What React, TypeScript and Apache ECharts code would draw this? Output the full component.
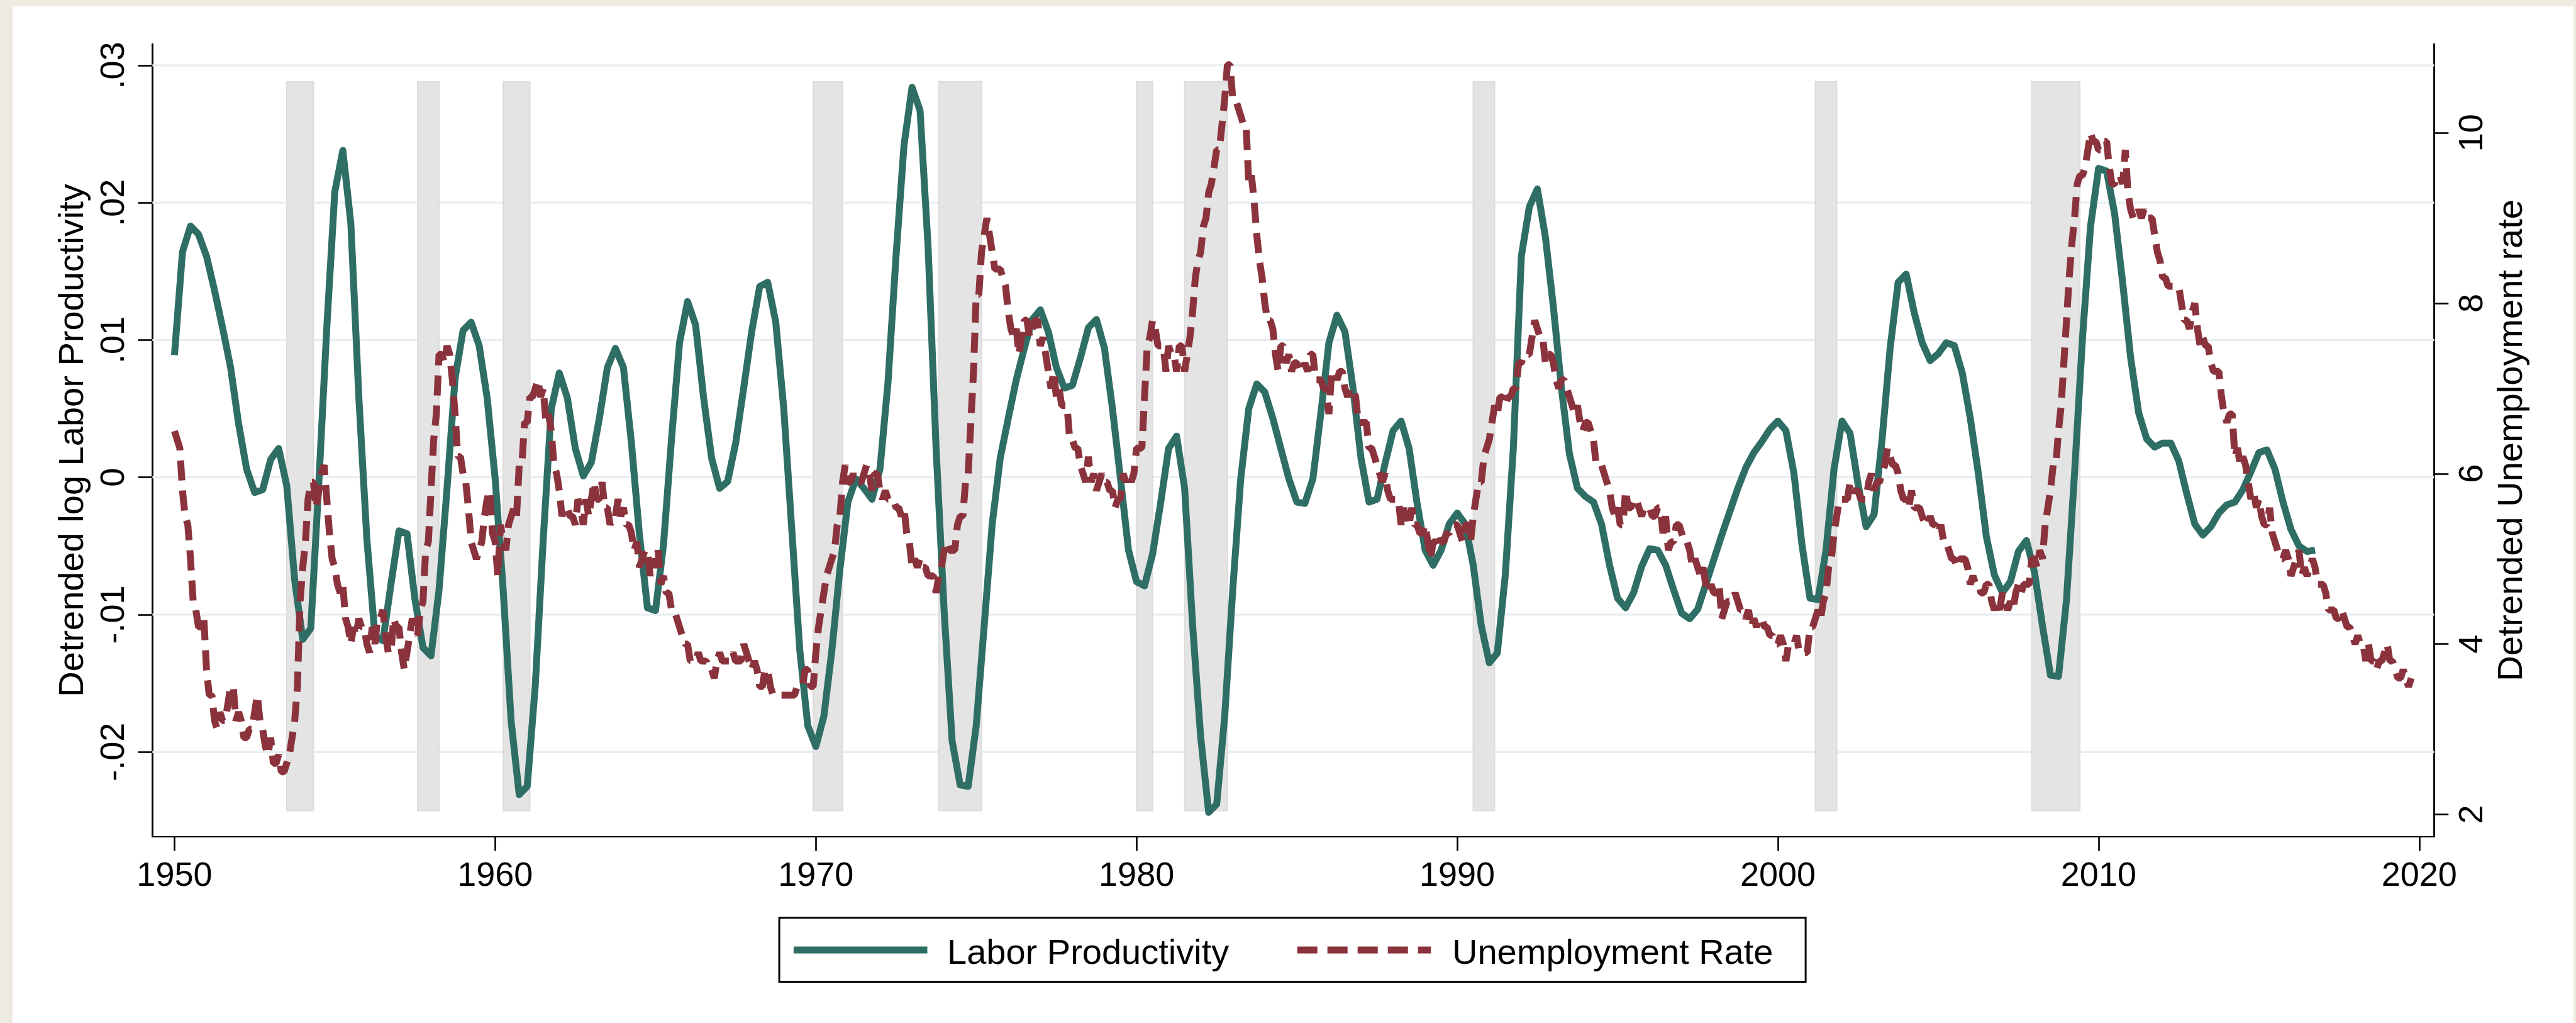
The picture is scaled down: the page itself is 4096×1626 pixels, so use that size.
import React, { useEffect, useRef } from "react";
import * as echarts from "echarts";

// ---------- data ----------
const xTickYears = [1950, 1960, 1970, 1980, 1990, 2000, 2010, 2020];
const leftTicks = [-0.02, -0.01, 0, 0.01, 0.02, 0.03];
const rightTicks = [2, 4, 6, 8, 10];
const legendLabels = ["Labor Productivity", "Unemployment Rate"];
const axisTitles = ["Detrended log Labor Productivity", "Detrended Unemployment rate"];

// Detrended log labor productivity, quarterly from 1950Q1
const productivityStartYear = 1950;
const productivity1950s = [
  0.0089, 0.0164, 0.0183, 0.0177, 0.0161, 0.0136, 0.0109, 0.008, 0.0039, 0.0006,
  -0.0011, -0.0009, 0.0013, 0.0021, -0.0006, -0.0075, -0.0118, -0.011, -0.0005, 0.0109,
  0.0208, 0.0238, 0.0185, 0.0058, -0.0045, -0.0115, -0.0119, -0.0078, -0.0039, -0.0041,
  -0.0089, -0.0124, -0.013, -0.0082, -0.0008, 0.0072, 0.0107, 0.0113, 0.0096, 0.0058,
];
const productivity1960s = [
  -0.0001, -0.0082, -0.0178, -0.0231, -0.0225, -0.0152, -0.0045, 0.005, 0.0076, 0.0058,
  0.0021, 0.0001, 0.0011, 0.0043, 0.008, 0.0094, 0.008, 0.0025, -0.0042, -0.0095,
  -0.0097, -0.0049, 0.0028, 0.0098, 0.0128, 0.0111, 0.0058, 0.0014, -0.0008, -0.0003,
  0.0025, 0.0065, 0.0106, 0.0139, 0.0142, 0.0113, 0.005, -0.0038, -0.0126, -0.0181,
];
const productivity1970s = [
  -0.0196, -0.0174, -0.0126, -0.0067, -0.0018, -0.0001, -0.0008, -0.0016, 0.0006, 0.0069,
  0.0161, 0.0242, 0.0284, 0.0267, 0.0168, 0.0021, -0.0097, -0.0192, -0.0224, -0.0225,
  -0.0181, -0.0108, -0.0034, 0.0014, 0.0043, 0.0071, 0.0094, 0.0115, 0.0122, 0.0106,
  0.008, 0.0065, 0.0067, 0.0087, 0.0109, 0.0115, 0.0094, 0.005, -0.0001, -0.0053,
];
const productivity1980s = [
  -0.0076, -0.0079, -0.0056, -0.0019, 0.0021, 0.003, -0.0008, -0.0108, -0.0189, -0.0244,
  -0.0238, -0.0174, -0.0082, -0.0001, 0.005, 0.0068, 0.0062, 0.0043, 0.0021, -0.0001,
  -0.0018, -0.0019, -0.0001, 0.0047, 0.0098, 0.0118, 0.0106, 0.0065, 0.0014, -0.0018,
  -0.0016, 0.001, 0.0034, 0.0041, 0.0021, -0.0019, -0.0053, -0.0064, -0.0053, -0.0034,
];
const productivity1990s = [
  -0.0026, -0.0034, -0.0064, -0.0108, -0.0135, -0.0128, -0.0071, 0.0021, 0.0161, 0.0197,
  0.021, 0.0175, 0.0124, 0.0065, 0.0017, -0.0008, -0.0014, -0.0018, -0.0034, -0.0064,
  -0.0088, -0.0095, -0.0084, -0.0065, -0.0052, -0.0053, -0.0064, -0.0082, -0.0099, -0.0103,
  -0.0096, -0.0078, -0.006, -0.0042, -0.0025, -0.0008, 0.0007, 0.0018, 0.0026, 0.0035,
];
const productivity2000s = [
  0.0041, 0.0034, 0.0003, -0.0049, -0.0088, -0.0089, -0.0053, 0.0006, 0.0041, 0.0032,
  -0.0005, -0.0036, -0.0027, 0.0028, 0.0094, 0.0142, 0.0148, 0.012, 0.0098, 0.0085,
  0.009, 0.0098, 0.0096, 0.0076, 0.0043, 0.0003, -0.0043, -0.0071, -0.0084, -0.0076,
  -0.0054, -0.0046, -0.0069, -0.0108, -0.0144, -0.0145, -0.0089, 0.0003, 0.0102, 0.0183,
];
const productivity2010s = [
  0.0225, 0.0223, 0.0192, 0.0142, 0.0087, 0.0047, 0.0028, 0.0022, 0.0025, 0.0025,
  0.0012, -0.0012, -0.0034, -0.0042, -0.0036, -0.0026, -0.002, -0.0018, -0.0009, 0.0004,
  0.0018, 0.002, 0.0006, -0.0018, -0.0038, -0.005, -0.0054, -0.0053,
];

// Unemployment rate, monthly from January 1950
const unemploymentStartYear = 1950;
const unemployment1950s = [
  6.5, 6.4, 6.3, 5.8, 5.5, 5.4, 5.0, 4.5, 4.4, 4.2, 4.2, 4.3,
  3.7, 3.4, 3.4, 3.1, 3.0, 3.2, 3.1, 3.1, 3.3, 3.5, 3.5, 3.1,
  3.2, 3.1, 2.9, 2.9, 3.0, 3.0, 3.2, 3.4, 3.1, 3.0, 2.8, 2.7,
  2.9, 2.6, 2.6, 2.7, 2.5, 2.5, 2.6, 2.7, 2.9, 3.1, 3.5, 4.5,
  4.9, 5.2, 5.7, 5.9, 5.9, 5.6, 5.8, 6.0, 6.1, 5.7, 5.3, 5.0,
  4.9, 4.7, 4.6, 4.7, 4.3, 4.2, 4.0, 4.2, 4.1, 4.3, 4.2, 4.2,
  4.0, 3.9, 4.2, 4.0, 4.3, 4.3, 4.4, 4.1, 3.9, 3.9, 4.3, 4.2,
  4.2, 3.9, 3.7, 3.9, 4.1, 4.3, 4.2, 4.1, 4.4, 4.5, 5.1, 5.2,
  5.8, 6.4, 6.7, 7.4, 7.4, 7.3, 7.5, 7.4, 7.1, 6.7, 6.2, 6.2,
  6.0, 5.9, 5.6, 5.2, 5.1, 5.0, 5.1, 5.2, 5.5, 5.7, 5.8, 5.3,
];
const unemployment1960s = [
  5.2, 4.8, 5.4, 5.2, 5.1, 5.4, 5.5, 5.6, 5.5, 6.1, 6.1, 6.6,
  6.6, 6.9, 6.9, 7.0, 7.1, 6.9, 7.0, 6.6, 6.7, 6.5, 6.1, 6.0,
  5.8, 5.5, 5.6, 5.6, 5.5, 5.5, 5.4, 5.7, 5.6, 5.4, 5.7, 5.5,
  5.7, 5.9, 5.7, 5.7, 5.9, 5.6, 5.6, 5.4, 5.5, 5.5, 5.7, 5.5,
  5.6, 5.4, 5.4, 5.3, 5.1, 5.2, 4.9, 5.0, 5.1, 5.1, 4.8, 5.0,
  4.9, 5.1, 4.7, 4.8, 4.6, 4.6, 4.4, 4.4, 4.3, 4.2, 4.1, 4.0,
  4.0, 3.8, 3.8, 3.8, 3.9, 3.8, 3.8, 3.8, 3.7, 3.7, 3.6, 3.8,
  3.9, 3.8, 3.8, 3.8, 3.8, 3.9, 3.8, 3.8, 3.8, 4.0, 3.9, 3.8,
  3.7, 3.8, 3.7, 3.5, 3.5, 3.7, 3.7, 3.5, 3.4, 3.4, 3.4, 3.4,
  3.4, 3.4, 3.4, 3.4, 3.4, 3.5, 3.5, 3.5, 3.7, 3.7, 3.5, 3.5,
];
const unemployment1970s = [
  3.9, 4.2, 4.4, 4.6, 4.8, 4.9, 5.0, 5.1, 5.4, 5.5, 5.9, 6.1,
  5.9, 5.9, 6.0, 5.9, 5.9, 5.9, 6.0, 6.1, 6.0, 5.8, 6.0, 6.0,
  5.8, 5.7, 5.8, 5.7, 5.7, 5.7, 5.6, 5.6, 5.5, 5.6, 5.3, 5.2,
  4.9, 5.0, 4.9, 5.0, 4.9, 4.9, 4.8, 4.8, 4.8, 4.6, 4.8, 4.9,
  5.1, 5.2, 5.1, 5.1, 5.1, 5.4, 5.5, 5.5, 5.9, 6.0, 6.6, 7.2,
  8.1, 8.1, 8.6, 8.8, 9.0, 8.8, 8.6, 8.4, 8.4, 8.4, 8.3, 8.2,
  7.9, 7.7, 7.6, 7.7, 7.4, 7.6, 7.8, 7.8, 7.6, 7.7, 7.8, 7.8,
  7.5, 7.6, 7.4, 7.2, 7.0, 7.2, 6.9, 7.0, 6.8, 6.8, 6.8, 6.4,
  6.4, 6.3, 6.3, 6.1, 6.0, 5.9, 6.2, 5.9, 6.0, 5.8, 5.9, 6.0,
  5.9, 5.9, 5.8, 5.8, 5.6, 5.7, 5.7, 6.0, 5.9, 6.0, 5.9, 6.0,
];
const unemployment1980s = [
  6.3, 6.3, 6.3, 6.9, 7.5, 7.6, 7.8, 7.7, 7.5, 7.5, 7.5, 7.2,
  7.5, 7.4, 7.4, 7.2, 7.5, 7.5, 7.2, 7.4, 7.6, 7.9, 8.3, 8.5,
  8.6, 8.9, 9.0, 9.3, 9.4, 9.6, 9.8, 9.8, 10.1, 10.4, 10.8, 10.8,
  10.4, 10.4, 10.3, 10.2, 10.1, 10.1, 9.4, 9.5, 9.2, 8.8, 8.5, 8.3,
  8.0, 7.8, 7.8, 7.7, 7.4, 7.2, 7.5, 7.5, 7.3, 7.4, 7.2, 7.3,
  7.3, 7.2, 7.2, 7.3, 7.2, 7.4, 7.4, 7.1, 7.1, 7.1, 7.0, 7.0,
  6.7, 7.2, 7.2, 7.1, 7.2, 7.2, 7.0, 6.9, 7.0, 7.0, 6.9, 6.6,
  6.6, 6.6, 6.6, 6.3, 6.3, 6.2, 6.1, 6.0, 5.9, 6.0, 5.8, 5.7,
  5.7, 5.7, 5.7, 5.4, 5.6, 5.4, 5.4, 5.6, 5.4, 5.4, 5.3, 5.3,
  5.4, 5.2, 5.0, 5.2, 5.2, 5.3, 5.2, 5.2, 5.3, 5.3, 5.4, 5.4,
];
const unemployment1990s = [
  5.4, 5.3, 5.2, 5.4, 5.4, 5.2, 5.5, 5.7, 5.9, 5.9, 6.2, 6.3,
  6.4, 6.6, 6.8, 6.7, 6.9, 6.9, 6.8, 6.9, 6.9, 7.0, 7.0, 7.3,
  7.3, 7.4, 7.4, 7.4, 7.6, 7.8, 7.7, 7.6, 7.6, 7.3, 7.4, 7.4,
  7.3, 7.1, 7.0, 7.1, 7.1, 7.0, 6.9, 6.8, 6.7, 6.8, 6.6, 6.5,
  6.6, 6.6, 6.5, 6.4, 6.1, 6.1, 6.1, 6.0, 5.9, 5.8, 5.6, 5.5,
  5.6, 5.4, 5.4, 5.8, 5.6, 5.6, 5.7, 5.7, 5.6, 5.5, 5.6, 5.6,
  5.6, 5.5, 5.5, 5.6, 5.6, 5.3, 5.5, 5.1, 5.2, 5.2, 5.4, 5.4,
  5.3, 5.2, 5.2, 5.1, 4.9, 5.0, 4.9, 4.8, 4.9, 4.7, 4.6, 4.7,
  4.6, 4.6, 4.7, 4.3, 4.4, 4.5, 4.5, 4.5, 4.6, 4.5, 4.4, 4.4,
  4.3, 4.4, 4.2, 4.3, 4.2, 4.3, 4.3, 4.2, 4.2, 4.1, 4.1, 4.0,
];
const unemployment2000s = [
  4.0, 4.1, 4.0, 3.8, 4.0, 4.0, 4.0, 4.1, 3.9, 3.9, 3.9, 3.9,
  4.2, 4.2, 4.3, 4.4, 4.3, 4.5, 4.6, 4.9, 5.0, 5.3, 5.5, 5.7,
  5.7, 5.7, 5.7, 5.9, 5.8, 5.8, 5.8, 5.7, 5.7, 5.7, 5.9, 6.0,
  5.8, 5.9, 5.9, 6.0, 6.1, 6.3, 6.2, 6.1, 6.1, 6.0, 5.8, 5.7,
  5.7, 5.6, 5.8, 5.6, 5.6, 5.6, 5.5, 5.4, 5.4, 5.5, 5.4, 5.4,
  5.3, 5.4, 5.2, 5.2, 5.1, 5.0, 5.0, 4.9, 5.0, 5.0, 5.0, 4.9,
  4.7, 4.8, 4.7, 4.7, 4.6, 4.6, 4.7, 4.7, 4.5, 4.4, 4.5, 4.4,
  4.6, 4.5, 4.4, 4.5, 4.4, 4.6, 4.7, 4.6, 4.7, 4.7, 4.7, 5.0,
  5.0, 4.9, 5.1, 5.0, 5.4, 5.6, 5.8, 6.1, 6.1, 6.5, 6.8, 7.3,
  7.8, 8.3, 8.7, 9.0, 9.4, 9.5, 9.5, 9.6, 9.8, 10.0, 9.9, 9.9,
];
const unemployment2010s = [
  9.8, 9.8, 9.9, 9.9, 9.6, 9.4, 9.4, 9.5, 9.5, 9.4, 9.8, 9.3,
  9.1, 9.0, 9.0, 9.1, 9.0, 9.1, 9.0, 9.0, 9.0, 8.8, 8.6, 8.5,
  8.3, 8.3, 8.2, 8.2, 8.2, 8.2, 8.2, 8.0, 7.8, 7.8, 7.7, 7.9,
  8.0, 7.7, 7.5, 7.6, 7.5, 7.5, 7.3, 7.2, 7.2, 7.2, 6.9, 6.7,
  6.6, 6.7, 6.7, 6.2, 6.3, 6.1, 6.2, 6.1, 5.9, 5.7, 5.8, 5.6,
  5.7, 5.5, 5.4, 5.4, 5.6, 5.3, 5.2, 5.1, 5.0, 5.0, 5.1, 5.0,
  4.8, 4.9, 5.0, 5.1, 4.8, 4.9, 4.8, 4.9, 5.0, 4.9, 4.7, 4.7,
  4.7, 4.6, 4.4, 4.4, 4.4, 4.3, 4.3, 4.4, 4.3, 4.2, 4.2, 4.1,
  4.0, 4.1, 4.0, 4.0, 3.8, 4.0, 3.8, 3.8, 3.7, 3.8, 3.8, 3.9,
  4.0, 3.8, 3.8, 3.7, 3.6, 3.6, 3.7, 3.6, 3.5, 3.6,
];

// NBER recessions (peak month, trough month)
const recessionPeaks = ["1953-07", "1957-08", "1960-04", "1969-12", "1973-11", "1980-01", "1981-07", "1990-07", "2001-03", "2007-12"];
const recessionTroughs = ["1954-05", "1958-04", "1961-02", "1970-11", "1975-03", "1980-07", "1982-11", "1991-03", "2001-11", "2009-06"];

// ---------- layout / style ----------
const W = 4096;
const H = 1626;
const FONT = "'Liberation Sans', Arial, Helvetica, sans-serif";
const GREEN = "#2E6E65";
const RED = "#8B333C";
const GRID_COLOR = "#E8EEF1";
const BEIGE = "#EEEAE0";
const LINE_W = 11;

const X_MIN = 1949.3115;
const X_MAX = 2020.465;
const L_MIN = -0.02616;
const L_MAX = 0.031543;
const R_MIN = 1.74;
const R_MAX = 11.041;
const REC_TOP = 0.02882;
const REC_BOTTOM = -0.02427;

const monthToYear = (s: string) => {
  const [y, m] = s.split("-").map(Number);
  return y + (m - 1) / 12;
};

const productivityAll = [
  ...productivity1950s, ...productivity1960s, ...productivity1970s, ...productivity1980s,
  ...productivity1990s, ...productivity2000s, ...productivity2010s,
];
const unemploymentAll = [
  ...unemployment1950s, ...unemployment1960s, ...unemployment1970s, ...unemployment1980s,
  ...unemployment1990s, ...unemployment2000s, ...unemployment2010s,
];
const productivityData = productivityAll.map((v, i) => [productivityStartYear + i / 4, v]);
const unemploymentData = unemploymentAll.map((v, i) => [unemploymentStartYear + i / 12, v]);
const recessionData = recessionPeaks.map((p, i) => [monthToYear(p), monthToYear(recessionTroughs[i])]);

const fmtLeft = (v: number) => {
  if (Math.abs(v) < 1e-9) return "0";
  const s = Math.abs(v).toFixed(2).replace(/^0/, "");
  return (v < 0 ? "-" : "") + s;
};

const axisLineStyle = (w: number) => ({ show: true, onZero: false, lineStyle: { color: "#000", width: w } });

function buildOption() {
  return {
    animation: false,
    backgroundColor: "transparent",
    textStyle: { fontFamily: FONT },
    grid: {
      left: 242.3,
      right: 225.5,
      top: 70.2,
      bottom: 296.3,
      containLabel: false,
      outerBoundsMode: "none",
    },
    xAxis: {
      type: "value",
      min: X_MIN,
      max: X_MAX,
      axisLine: axisLineStyle(2.2),
      axisTick: { show: true, length: 22.8, customValues: xTickYears, lineStyle: { color: "#000", width: 2.6 } },
      axisLabel: {
        customValues: xTickYears,
        margin: 32.5,
        fontSize: 54,
        fontFamily: FONT,
        color: "#000",
        formatter: (v: number) => String(Math.round(v)),
      },
      splitLine: { show: false },
    },
    yAxis: [
      {
        type: "value",
        position: "left",
        min: L_MIN,
        max: L_MAX,
        name: axisTitles[0],
        nameLocation: "middle",
        nameRotate: 90,
        nameGap: 101.5,
        nameTextStyle: { fontSize: 56, fontFamily: FONT, color: "#000" },
        axisLine: axisLineStyle(2.85),
        axisTick: { show: true, length: 22.8, customValues: leftTicks, lineStyle: { color: "#000", width: 2.6 } },
        axisLabel: {
          customValues: leftTicks,
          rotate: 90,
          margin: 37,
          fontSize: 54,
          fontFamily: FONT,
          color: "#000",
          formatter: fmtLeft,
        },
        splitLine: { show: false },
      },
      {
        type: "value",
        position: "right",
        min: R_MIN,
        max: R_MAX,
        name: axisTitles[1],
        nameLocation: "middle",
        nameRotate: 90,
        nameGap: 91.4,
        nameTextStyle: { fontSize: 56, fontFamily: FONT, color: "#000" },
        axisLine: axisLineStyle(2.85),
        axisTick: { show: true, length: 22.8, customValues: rightTicks, lineStyle: { color: "#000", width: 2.6 } },
        axisLabel: {
          customValues: rightTicks,
          rotate: 90,
          margin: 30,
          fontSize: 54,
          fontFamily: FONT,
          color: "#000",
          formatter: (v: number) => String(Math.round(v)),
        },
        splitLine: { show: false },
      },
    ],
    series: [
      {
        type: "custom",
        name: "gridlines",
        yAxisIndex: 0,
        z: 1,
        silent: true,
        data: leftTicks.map((v) => [X_MIN, v]),
        renderItem: (_params: any, api: any) => {
          const y = api.value(1);
          const a = api.coord([X_MIN, y]);
          const b = api.coord([X_MAX, y]);
          return {
            type: "line",
            shape: { x1: a[0], y1: a[1], x2: b[0], y2: b[1] },
            style: { stroke: GRID_COLOR, lineWidth: 3.3 },
          };
        },
      },
      {
        type: "custom",
        name: "recessions",
        yAxisIndex: 0,
        z: 2,
        silent: true,
        data: recessionData,
        renderItem: (_params: any, api: any) => {
          const p = api.coord([api.value(0), REC_TOP]);
          const q = api.coord([api.value(1), REC_BOTTOM]);
          return {
            type: "rect",
            shape: { x: p[0], y: p[1], width: q[0] - p[0], height: q[1] - p[1] },
            style: { fill: "#E4E4E4", stroke: "#DCDCDC", lineWidth: 2 },
          };
        },
      },
      {
        type: "line",
        name: legendLabels[0],
        yAxisIndex: 0,
        z: 3,
        silent: true,
        data: productivityData,
        showSymbol: false,
        symbol: "none",
        lineStyle: { color: GREEN, width: LINE_W, join: "round", cap: "butt" },
      },
      {
        type: "line",
        name: legendLabels[1],
        yAxisIndex: 1,
        z: 4,
        silent: true,
        data: unemploymentData,
        showSymbol: false,
        symbol: "none",
        lineStyle: { color: RED, width: LINE_W, type: [32, 16] },
      },
    ],
    graphic: [
      {
        type: "rect",
        z: 10,
        shape: { x: 1239.1, y: 1458.8, width: 1632, height: 101.7 },
        style: { fill: "#fff", stroke: "#000", lineWidth: 3 },
      },
      {
        type: "line",
        z: 11,
        shape: { x1: 1261.9, y1: 1510, x2: 1474.5, y2: 1510 },
        style: { stroke: GREEN, lineWidth: LINE_W },
      },
      {
        type: "text",
        z: 11,
        x: 1506,
        y: 1512,
        style: {
          text: legendLabels[0],
          fontSize: 56,
          fontFamily: FONT,
          fill: "#000",
          align: "left",
          textAlign: "left",
          verticalAlign: "middle",
          textVerticalAlign: "middle",
        },
      },
      {
        type: "line",
        z: 11,
        shape: { x1: 2062.7, y1: 1510, x2: 2275.3, y2: 1510 },
        style: { stroke: RED, lineWidth: LINE_W, lineDash: [32, 16] },
      },
      {
        type: "text",
        z: 11,
        x: 2309,
        y: 1512,
        style: {
          text: legendLabels[1],
          fontSize: 56,
          fontFamily: FONT,
          fill: "#000",
          align: "left",
          textAlign: "left",
          verticalAlign: "middle",
          textVerticalAlign: "middle",
        },
      },
    ],
  };
}

export default function App() {
  const ref = useRef<HTMLDivElement>(null);
  useEffect(() => {
    if (!ref.current) return;
    const chart = echarts.init(ref.current, null, { renderer: "svg", width: W, height: H });
    chart.setOption(buildOption() as any);
    return () => chart.dispose();
  }, []);
  return (
    <div style={{ position: "fixed", left: 0, top: 0, width: W, height: H, background: BEIGE, overflow: "hidden" }}>
      <div style={{ position: "absolute", left: 20, top: 10.4, width: 4072, height: H - 10.4, background: "#fff" }} />
      <div ref={ref} style={{ position: "absolute", left: 0, top: 0, width: W, height: H }} />
    </div>
  );
}
